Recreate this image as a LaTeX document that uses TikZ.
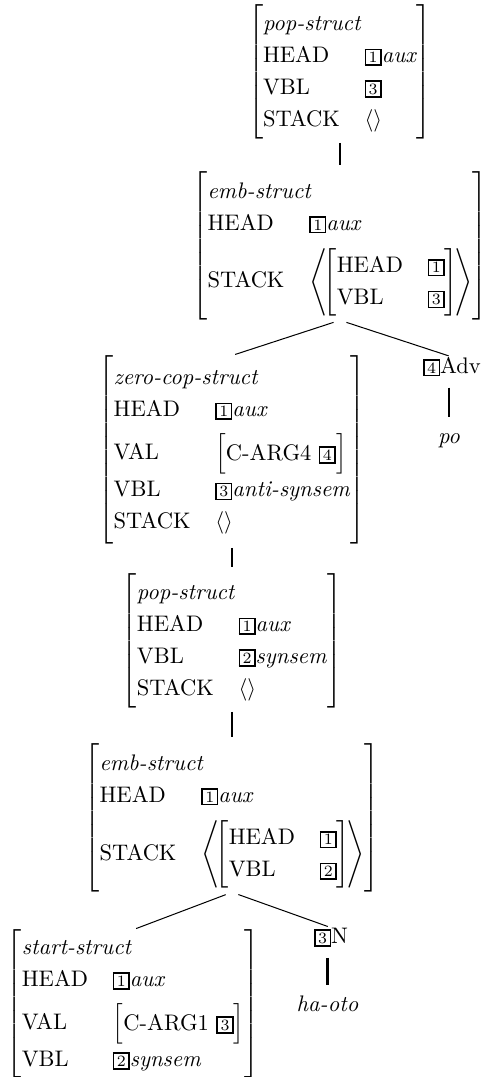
\documentclass[tikz,border=0pt]{standalone}
\usepackage{array}
\newcommand{\tg}[1]{{\setlength{\fboxsep}{0.8pt}\setlength{\fboxrule}{0.7pt}\fbox{\makebox[4.6pt]{\scriptsize #1}}}}
\newcommand{\fs}[1]{\left[\begin{tabular}{@{}l@{\hspace{11pt}}l@{}}#1\end{tabular}\right]}
\newcommand{\avm}[2]{$\fs{\multicolumn{2}{@{}l@{}}{\textit{#1}}\\ #2}$}
\newcommand{\cval}[1]{$\left[\begin{tabular}{@{}l@{}}#1\end{tabular}\right]$}
\newcommand{\stk}[1]{$\left\langle\mkern-3mu\fs{#1}\mkern-3mu\right\rangle$}
\renewcommand{\arraystretch}{1.18}
\delimitershortfall=0pt
\delimiterfactor=1000
\begin{document}
\begin{tikzpicture}[x=0.4444pt, y=-0.4444pt,
    every node/.style={inner sep=0pt, outer sep=0pt},
    unary/.style={line width=1.3pt, shorten <=1.5pt, shorten >=3pt},
    branch/.style={line width=0.45pt, shorten <=3pt, shorten >=1.5pt},
    leaf/.style={line width=1.3pt, shorten <=5pt, shorten >=3.4pt}]
  \useasboundingbox (0,0) rectangle (485,1077);
  \draw
    (340,72) node (0){\avm{pop-struct}{HEAD & \tg{1}\textit{aux}\\ VBL & \tg{3}\\ STACK & $\langle\rangle$}}
    (340,246) node (1){\avm{emb-struct}{HEAD & \tg{1}\textit{aux}\\[4pt]
      STACK & \stk{HEAD & \tg{1}\\ VBL & \tg{3}}}}
    (232,450) node (2){\avm{zero-cop-struct}{HEAD & \tg{1}\textit{aux}\\[3.4pt]
      VAL & \cval{C-ARG4 \tg{4}}\\[2.1pt] VBL & \tg{3}\textit{anti-synsem}\\ STACK & $\langle\rangle$}}
    (423,373) node[anchor=base west] (3){\tg{4}Adv}
    (449,443) node[anchor=base, text height=8pt] (4){\textit{po}}
    (232,641) node (5){\avm{pop-struct}{HEAD & \tg{1}\textit{aux}\\ VBL & \tg{2}\textit{synsem}\\ STACK & $\langle\rangle$}}
    (232,818) node (6){\avm{emb-struct}{HEAD & \tg{1}\textit{aux}\\[4pt]
      STACK & \stk{HEAD & \tg{1}\\ VBL & \tg{2}}}}
    (133,1004) node (7){\avm{start-struct}{HEAD & \tg{1}\textit{aux}\\[3.4pt]
      VAL & \cval{C-ARG1 \tg{3}}\\[2.1pt] VBL & \tg{2}\textit{synsem}}}
    (314,943) node[anchor=base west] (8){\tg{3}N}
    (327.5,1011) node[anchor=base, text height=8pt] (9){\textit{ha-oto}};
  \begin{scope}[-]
    \draw[unary] (0) to (1);
    \draw[branch] (1.south) to (2.north);
    \draw[branch] (1.south) to (3.north);
    \draw[leaf] (4 |- 3.south) to (4);
    \draw[unary] (2) to (5);
    \draw[unary] (5) to (6);
    \draw[branch] (6.south) to (7.north);
    \draw[branch] (6.south) to (8.north);
    \draw[leaf] (9 |- 8.south) to (9);
  \end{scope}
\end{tikzpicture}
\end{document}
